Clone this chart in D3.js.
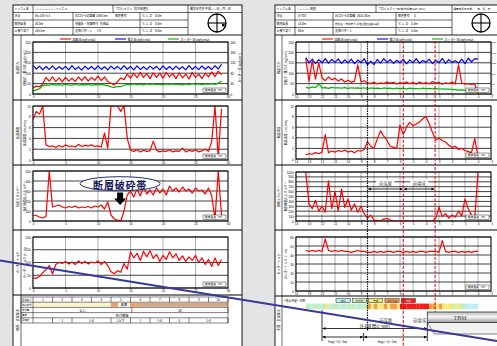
<!DOCTYPE html>
<html>
<head>
<meta charset="utf-8">
<script src="https://cdn.jsdelivr.net/npm/d3@7"></script>
<style>
  body { margin: 0; background: #e4e4e4; overflow: hidden; }
  svg { display: block; }
</style>
</head>
<body>
<script>
// ---------- data : left sheet (0 - 30 m, every 0.5 m) ----------
const L_DIST = d3.range(0, 29.01, 0.5);
const L_X_TICKS = [0, 5, 10, 15, 20, 25, 30];
const L_ROTATION = [30,38,35,48,80,62,82,60,78,58, 80,62,76,60,82,64,84,62,80,66,
  86,64,82,60,52,44,60,78,68,96, 76,100,78,104,80,98,74,102,80,100,
  76,104,82,98,74,102,78,96,72,104, 80,96,74,100,82,106,84,110,92];
const L_THRUST = [138,120,134,116,132,118,135,117,131,119, 133,116,136,118,130,115,134,119,132,117,
  135,118,131,116,134,120,133,117,136,119, 132,116,135,118,131,117,134,120,133,116,
  135,118,132,117,134,119,131,116,136,118, 133,117,135,119,132,118,136,121,142];
const L_CUTTER = [15,20,25,40,44,42,46,43,45,42, 46,44,43,47,42,45,44,46,43,45,
  44,46,43,40,34,32,36,35,42,46, 44,48,45,47,44,49,46,48,45,47,
  44,48,46,49,45,47,44,48,45,50, 46,48,45,49,47,50,46,52,62];
const L_SPEED = [7.5,9.0,8.5,10,2.8,2.5,2.6,2.3,2.7,2.4, 2.8,2.5,2.6,2.4,2.9,2.5,2.7,2.6,2.8,2.5,
  2.6,2.4,5.0,2.2,10,10,10,9.0,10,4.0, 1.8,1.6,1.9,1.5,1.8,1.6,1.7,3.5,1.8,1.5,
  1.7,1.6,1.9,1.5,1.7,1.6,2.2,1.5,1.8,1.6, 1.9,1.5,1.7,2.0,1.6,3.5,10,0.5,9.5];
const L_ENERGY = [60,55,40,30,45,500,140,150,160,140, 130,145,135,150,130,140,135,145,130,150,
  140,160,120,190,60,20,10,0,100,260, 300,240,320,250,340,270,310,260,330,280,
  320,260,350,300,330,290,340,300,320,280, 330,300,310,270,330,250,20,500,60];
const L_TORQUE = [40,38,45,60,72,88,55,92,100,96, 104,94,102,92,106,96,104,94,102,98,
  106,92,104,88,64,56,68,62,96,74, 142,118,136,108,144,122,146,116,132,104,
  128,112,142,118,134,108,126,104,122,108, 128,100,118,92,112,84,118,88,112];

// left sheet table
const L_SECTION_NO = [1, 2, 3, 4, 5, 6, 7, 8, 9, 10];
const L_GEO_FROM = [0, 12, 13.1, 14.9, 15.8];
const L_GEO_TO = [12, 13.1, 14.9, 15.8, 30];
const L_GEO_KIND = [0, 1, 2, 1, 3];
const L_GEO_TEXT = ['', '', '崩落', '', ''];
const L_SPRING_FROM = [0, 15.2];
const L_SPRING_TO = [15.2, 30];
const L_SPRING_TEXT = ['なし', '20'];
const L_SUPPORT_TEXT = '吹付補強';
const L_WATER_FROM = [0, 3, 6, 12, 15, 18, 21, 24];
const L_WATER_TO = [3, 6, 12, 15, 18, 21, 24, 30];
const L_WATER_TEXT = ['', '1', '1~2', '1以下', '1', '1~2', '2', '1~2'];
const L_ROW_LABELS = ['区間番号', '地山状況', '湧水量', '補強', '評価点'];

// ---------- data : right sheet (13.25 m -> 0 m, every 0.25 m) ----------
const R_DIST = d3.range(13.25, -0.01, -0.25);
const R_X_TICKS = d3.range(14, -1.01, -1);
const R_ROTATION = [170,60,160,72,150,78,64,82,68,76, 62,72,58,66,56,62,140,58,64,54,
  50,56,48,54,50,58,52,56,48,55, 50,57,49,56,47,58,50,55,48,60,
  52,56,47,54,50,57,48,140,52,47,50,46,48,0];
const R_THRUST = [175,150,168,146,165,150,170,148,166,152, 169,147,164,150,168,146,163,151,170,140,
  158,142,166,148,170,152,165,147,162,150, 168,145,164,151,170,148,161,153,167,146,
  163,150,171,147,165,152,160,149,168,146,172,155,170,168];
const R_CUTTER = [32,28,34,30,50,29,31,27,32,29, 30,28,31,27,30,28,29,27,30,26,
  29,27,28,26,29,27,28,25,28,26, 27,25,28,26,27,24,28,26,27,25,
  26,24,25,23,24,22,21,19,20,18,19,17,22,30];
const R_SPEED = [0.8,1.0,0.9,1.2,1.0,1.3,4.6,1.2,1.5,1.3, 1.6,1.4,1.7,1.3,1.5,1.2,1.6,1.5,1.8,3.3,
  2.4,2.0,3.8,5.3,4.3,3.5,2.4,2.2,2.0,6.4, 4.6,6.0,6.9,6.3,6.6,7.0,7.6,8.0,6.6,5.0,
  3.6,3.9,3.5,3.2,2.6,2.2,2.4,1.8,2.0,1.6, 1.4,1.2,3.9,0.3];
const R_ENERGY = [1000,350,250,420,200,300,180,820,250,600, 200,650,280,450,220,350,180,300,150,60,
  120,20,10,0,40,50,20,0,0,0, 0,10,0,0,0,0,0,0,0,0,
  60,280,90,150,60,120,80,200,100,450, 250,120,60,1000];
const R_TORQUE = [45,44,45,44,45,44,58,45,44,45, 44,45,44,44,43,44,45,44,44,43,
  43,44,43,44,43,44,44,43,44,44, 43,44,43,44,43,44,44,43,44,44,
  44,43,56,44,43,44,44,43,44,43, 44,43,44,44];
// ground class per 0.25 m bin (1 good ... 5 poor)
const R_CLASS = [2,1,2,2,1,2,3,1,2,2, 1,2,1,2,2,1,2,1,2,4,
  3,4,3,3,4,3,4,4,3,5, 5,5,5,5,5,5,5,5,4,4,
  3,4,3,3,3,2,3,2,2,1, 1,1,1];
const R_CLASS_NAMES = ['良好', 'やや良', '普通', 'やや不良', '不良'];
const R_FAULT_EDGE = 8.5;        // black dotted line
const R_ZONE_EDGES = [5.75, 3.3]; // red dashed lines

const RED = '#ff0000', BLUE = '#0000ff', GREEN = '#00b400';
const CLASS_COLORS = ['#bfeef2', '#c4eeb2', '#f4ea74', '#f59a46', '#f21c1c'];
const GEO_COLORS = ['#fdf4c6', '#f39a5a', '#ffffff', '#d9a682'];
const FONT_JP = '"Noto Sans CJK JP", "Noto Sans", sans-serif';
const FONT_NUM = '"Liberation Sans", Arial, sans-serif';

const W = 497, H = 346;
const svg = d3.select('body').append('svg').attr('width', W).attr('height', H);
svg.append('rect').attr('width', W).attr('height', H).attr('fill', '#e4e4e4');

const defs = svg.append('defs');
defs.append('marker').attr('id', 'ah').attr('viewBox', '0 0 6 6')
  .attr('refX', 6).attr('refY', 3).attr('markerUnits', 'userSpaceOnUse')
  .attr('markerWidth', 3.2).attr('markerHeight', 3).attr('orient', 'auto-start-reverse')
  .append('path').attr('d', 'M0,0L6,3L0,6Z').attr('fill', '#000');
const grad = defs.append('linearGradient').attr('id', 'tbm').attr('x1', 0).attr('x2', 0).attr('y1', 0).attr('y2', 1);
grad.append('stop').attr('offset', 0).attr('stop-color', '#b8b8b8');
grad.append('stop').attr('offset', 0.45).attr('stop-color', '#f6f6f6');
grad.append('stop').attr('offset', 1).attr('stop-color', '#9c9c9c');

// ---------- helpers ----------
function text(g, x, y, s, size, o = {}) {
  return g.append('text').attr('x', x).attr('y', y).text(s)
    .attr('font-size', size).attr('font-family', o.font || FONT_JP)
    .attr('fill', o.fill || '#000').attr('text-anchor', o.anchor || 'start')
    .attr('dominant-baseline', 'central')
    .attr('font-weight', o.weight || null);
}
function vtext(g, x, y, s, size) {
  return text(g, 0, 0, s, size, { anchor: 'middle' })
    .attr('transform', `translate(${x},${y}) rotate(-90)`);
}
function seg(g, x1, y1, x2, y2, w = 0.6, c = '#000') {
  return g.append('line').attr('x1', x1).attr('y1', y1).attr('x2', x2).attr('y2', y2)
    .attr('stroke', c).attr('stroke-width', w);
}

function pageFrame(x0, x1) {
  const g = svg.append('g');
  g.append('rect').attr('x', x0).attr('y', 5).attr('width', x1 - x0).attr('height', H)
    .attr('fill', '#fff').attr('stroke', '#000').attr('stroke-width', 0.9);
  return g;
}

function header(g, x0, x1, h) {
  const rows = [5, 12.5, 20, 27.5, 35];
  seg(g, x0, rows[1], x1, rows[1], 0.6);
  seg(g, x0, rows[2], h.symCol, rows[2], 0.6);
  seg(g, x0, rows[3], h.symCol, rows[3], 0.6);
  seg(g, x0, rows[4], x1, rows[4], 0.9);
  h.cols1.forEach(c => seg(g, c, rows[0], c, rows[1], 0.6));
  h.cols2.forEach(c => seg(g, c, rows[1], c, rows[4], 0.6));
  h.texts.forEach((row, r) => row.forEach(([x, s, sz]) => {
    text(g, x, (rows[r] + rows[r + 1]) / 2, s, sz || 2.9);
  }));
  const cx = h.sym[0], cy = h.sym[1];
  g.append('circle').attr('cx', cx).attr('cy', cy).attr('r', 9)
    .attr('fill', 'none').attr('stroke', '#000').attr('stroke-width', 1.3);
  seg(g, cx - 9, cy, cx + 9, cy, 1.1);
  seg(g, cx, cy - 9, cx, cy + 9, 1.1);
  if (h.dot) g.append('rect').attr('x', cx + 5).attr('y', cy + 0.8).attr('width', 2.6).attr('height', 2.6).attr('fill', '#000');
}

let clipN = 0;
function plot(g, o) {
  const [x0, x1] = o.x.range();
  const y = d3.scaleLinear().domain(o.yDomain).range([o.bottom, o.top]);
  const id = 'clip' + (clipN++);
  g.append('clipPath').attr('id', id).append('rect')
    .attr('x', x0).attr('y', o.top).attr('width', x1 - x0).attr('height', o.bottom - o.top);

  g.append('g').selectAll('line').data(o.xTicks).join('line')
    .attr('x1', d => o.x(d)).attr('x2', d => o.x(d))
    .attr('y1', o.top).attr('y2', o.bottom)
    .attr('stroke', '#9c9c9c').attr('stroke-width', 0.8);
  g.append('g').selectAll('line').data(o.yTicks).join('line')
    .attr('x1', x0).attr('x2', x1).attr('y1', d => y(d)).attr('y2', d => y(d))
    .attr('stroke', '#000').attr('stroke-width', 0.75);

  // minor + labelled ticks on the left axis
  g.append('g').attr('transform', `translate(${x0},0)`)
    .call(d3.axisLeft(y).tickValues(o.yMinor).tickSize(1.3).tickFormat(''))
    .call(a => a.select('.domain').remove())
    .selectAll('line').attr('stroke-width', 0.4);
  g.append('g').attr('transform', `translate(${x0},0)`)
    .call(d3.axisLeft(y).tickValues(o.yTicks).tickSize(0).tickPadding(2.4).tickFormat(d3.format('d')))
    .call(a => a.select('.domain').remove())
    .selectAll('text').attr('font-size', 3.1).attr('font-family', FONT_NUM);

  if (o.right) {
    const yr = d3.scaleLinear().domain(o.right.domain).range([o.bottom, o.top]);
    g.append('g').attr('transform', `translate(${x1},0)`)
      .call(d3.axisRight(yr).tickValues(o.right.minor).tickSize(1.3).tickFormat(''))
      .call(a => a.select('.domain').remove())
      .selectAll('line').attr('stroke-width', 0.4);
    g.append('g').attr('transform', `translate(${x1},0)`)
      .call(d3.axisRight(yr).tickValues(o.right.ticks).tickSize(0).tickPadding(o.right.pad || 2.4).tickFormat(d3.format('d')))
      .call(a => a.select('.domain').remove())
      .selectAll('text').attr('font-size', o.right.size || 3.1).attr('font-family', FONT_NUM);
  }

  g.append('g').attr('transform', `translate(0,${o.bottom})`)
    .call(d3.axisBottom(o.x).tickValues(o.xTicks).tickSize(1).tickPadding(0.8).tickFormat(d3.format('d')))
    .call(a => a.select('.domain').remove())
    .call(a => a.selectAll('line').attr('stroke-width', 0.4))
    .selectAll('text').attr('font-size', 3.1).attr('font-family', FONT_NUM);

  const lines = g.append('g').attr('clip-path', `url(#${id})`);
  o.series.forEach(s => {
    const ln = d3.line().x((v, i) => o.x(o.dist[i])).y(v => y(v));
    lines.append('path').attr('d', ln(s.v)).attr('fill', 'none')
      .attr('stroke', s.c).attr('stroke-width', 1.2).attr('stroke-linejoin', 'round');
  });

  g.append('rect').attr('x', x1 - 25).attr('y', o.bottom - 6).attr('width', 23).attr('height', 4.6)
    .attr('fill', '#fff').attr('stroke', '#000').attr('stroke-width', 0.4);
  text(g, x1 - 13.5, o.bottom - 3.7, '掘進距離（m）', 2.8, { anchor: 'middle' });

  g.append('rect').attr('x', x0).attr('y', o.top).attr('width', x1 - x0).attr('height', o.bottom - o.top)
    .attr('fill', 'none').attr('stroke', '#000').attr('stroke-width', 0.9);
  return y;
}

function legend(g, items) {
  items.forEach(([x, c, s]) => {
    seg(g, x, 39, x + 11, 39, 1.1, c);
    text(g, x + 12.5, 39, s, 3.1);
  });
}

const PANEL_LABELS = [
  ['掘進圧力', '回転圧・推力圧 (kgf/cm²)'],
  ['掘進速度', '掘進速度 (cm/min)'],
  ['掘削エネルギー', '掘削体積比エネルギー'],
  ['カッタートルク', 'カッタートルク (t・m)']
];

// =============== LEFT SHEET ===============
const xL = d3.scaleLinear().domain([0, 30]).range([33, 228]);
const gL = pageFrame(13, 242);
header(gL, 13, 242, {
  symCol: 188, cols1: [33, 113, 188], cols2: [33, 73, 140, 188],
  sym: [217, 23], dot: true,
  texts: [
    [[14.5, 'トンネル名'], [35, '○○○○○○○ トンネル'], [115, 'プロジェクト'], [134, '前方探査孔'], [190, '撮影年月日'], [205, '平成○○年○月○日']],
    [[14.5, '測点'], [35, 'No.185+5.5'], [75, '坑口からの距離'], [96, '1565.5m'], [115, '掘進番号'], [142, 'Ｇ.Ｌ.Ｄ'], [155, '0.0m']],
    [[14.5, '掘進延長'], [35, '30.0m'], [75, '地質名・地質時代'], [100, '花崗岩'], [142, 'Ｇ.Ｌ.Ｄ'], [155, '0.0m']],
    [[14.5, '土被り高さ'], [35, '165.0m'], [75, '支保パターン'], [97, 'CⅡ'], [142, 'Ｇ.Ｌ.Ｄ'], [155, '0.0m']]
  ]
});
seg(gL, 21, 35, 21, H, 0.6);
[100, 165, 230, 295].forEach(yy => seg(gL, 13, yy, 242, yy, 1));
legend(gL, [[60, RED, '回転圧(kgf/cm2)'], [115, BLUE, '推力圧(kgf/cm2)'], [168, GREEN, 'カッター圧(kgf/cm2)']]);

const L_PANELS = [
  { top: 42, bottom: 94, yDomain: [0, 250], yTicks: d3.range(0, 251, 50), yMinor: d3.range(0, 251, 10),
    right: { domain: [0, 200], ticks: d3.range(0, 201, 40), minor: d3.range(0, 201, 8) },
    series: [{ v: L_THRUST, c: BLUE }, { v: L_CUTTER, c: GREEN }, { v: L_ROTATION, c: RED }] },
  { top: 106, bottom: 160, yDomain: [0, 10], yTicks: d3.range(0, 11, 2), yMinor: d3.range(0, 10.01, 0.5),
    series: [{ v: L_SPEED, c: RED }] },
  { top: 171, bottom: 221, yDomain: [0, 500], yTicks: d3.range(0, 501, 100), yMinor: d3.range(0, 501, 20),
    series: [{ v: L_ENERGY, c: RED }] },
  { top: 237, bottom: 288, yDomain: [0, 200], yTicks: d3.range(0, 201, 50), yMinor: d3.range(0, 201, 10),
    series: [{ v: L_TORQUE, c: RED }] }
];
L_PANELS.forEach((p, i) => {
  plot(gL, Object.assign({ x: xL, dist: L_DIST, xTicks: L_X_TICKS }, p));
  const cy = (p.top + p.bottom) / 2;
  vtext(gL, 17, cy, PANEL_LABELS[i][0], 3.1);
  vtext(gL, 24, cy, PANEL_LABELS[i][1], 3.1);
});
vtext(gL, 239.5, 68, 'カッター圧 (kgf/cm²)', 3.1);

// fault zone callout
const fx = xL(13.4);
gL.append('ellipse').attr('cx', fx).attr('cy', 183.7).attr('rx', 40).attr('ry', 7)
  .attr('fill', '#fff').attr('stroke', '#14145a').attr('stroke-width', 0.9);
text(gL, fx, 184.2, '断層破砕帯', 10, { anchor: 'middle', weight: 'bold', fill: '#14145a' })
  .attr('letter-spacing', 0.8);
gL.append('path')
  .attr('d', `M${fx - 3},192.5 L${fx + 3},192.5 L${fx + 3},198.5 L${fx + 6},198.5 L${fx},205 L${fx - 6},198.5 L${fx - 3},198.5 Z`)
  .attr('fill', '#000');

// bottom table
const TR = [297, 302.2, 307.4, 312.6, 317.8, 323];
const tb = gL.append('g');
vtext(gL, 17, 320, '地質・支保状況', 3.1);
L_GEO_FROM.forEach((f, i) => {
  tb.append('rect').attr('x', xL(f)).attr('y', TR[1] + 0.7).attr('width', xL(L_GEO_TO[i]) - xL(f))
    .attr('height', TR[2] - TR[1] - 1.4).attr('fill', GEO_COLORS[L_GEO_KIND[i]]);
  if (L_GEO_TEXT[i]) text(tb, (xL(f) + xL(L_GEO_TO[i])) / 2, (TR[1] + TR[2]) / 2, L_GEO_TEXT[i], 3.2, { anchor: 'middle' });
});
TR.forEach(yy => seg(tb, 21, yy, 228, yy, 0.5));
[21, 33, 228].forEach(xx => seg(tb, xx, TR[0], xx, TR[5], 0.5));
L_ROW_LABELS.forEach((s, r) => text(tb, 22, (TR[r] + TR[r + 1]) / 2, s, 2.4));
L_SECTION_NO.forEach((n, i) => {
  const a = xL(i * 3), b = xL(i * 3 + 3);
  seg(tb, b, TR[0], b, TR[1], 0.5);
  text(tb, (a + b) / 2, (TR[0] + TR[1]) / 2, String(n), 3, { anchor: 'middle', font: FONT_NUM });
});
L_SPRING_FROM.forEach((f, i) => {
  seg(tb, xL(L_SPRING_TO[i]), TR[2], xL(L_SPRING_TO[i]), TR[3], 0.5);
  text(tb, (xL(f) + xL(L_SPRING_TO[i])) / 2, (TR[2] + TR[3]) / 2, L_SPRING_TEXT[i], 3.1, { anchor: 'middle' });
});
text(tb, xL(13.7), (TR[3] + TR[4]) / 2, L_SUPPORT_TEXT, 3.1, { anchor: 'middle' });
L_WATER_FROM.forEach((f, i) => {
  seg(tb, xL(L_WATER_TO[i]), TR[4], xL(L_WATER_TO[i]), TR[5], 0.5);
  text(tb, (xL(f) + xL(L_WATER_TO[i])) / 2, (TR[4] + TR[5]) / 2, L_WATER_TEXT[i], 3.1, { anchor: 'middle' });
});

// =============== RIGHT SHEET ===============
const xR = d3.scaleLinear().domain([14, -1]).range([296, 491]);
const gR = pageFrame(275, W + 20);
header(gR, 275, W + 20, {
  symCol: 452, cols1: [295, 376, 452], cols2: [295, 333, 396, 452],
  sym: [481, 23], dot: false,
  texts: [
    [[276.5, 'トンネル名'], [298, '○○○○ 隧道'], [378, 'プロジェクト'], [396, 'TBM前方探査(AGF_No.2)', 2.6], [453.5, '調査年月日', 2.6], [467, '平成○○年○月○日', 2.6]],
    [[276.5, '測点'], [298, '0+700'], [335, '坑口からの距離'], [357, '1631.00m'], [398, '掘進番号'], [414, '3']],
    [[276.5, '掘進延長'], [298, '13.0m'], [335, '地質名・地質時代', 2.6], [357, '砂岩泥岩(古第三紀)', 2.6], [398, 'Ｇ.Ｌ.Ｄ'], [411, '3.3m']],
    [[276.5, '土被り高さ'], [298, '60m'], [335, '支保パターン'], [398, 'Ｇ.Ｌ.Ｄ'], [411, '3.3m']]
  ]
});
seg(gR, 282, 35, 282, H, 0.6);
[100, 165, 230, 296].forEach(yy => seg(gR, 275, yy, W + 20, yy, 1));
legend(gR, [[322, RED, '回転圧(kgf/cm2)'], [377, BLUE, '推力圧(kgf/cm2)'], [432, GREEN, 'カッター圧(kgf/cm2)']]);

const R_PANELS = [
  { top: 42, bottom: 94, yDomain: [0, 250], yTicks: d3.range(0, 251, 50), yMinor: d3.range(0, 251, 10),
    right: { domain: [0, 200], ticks: d3.range(0, 201, 40), minor: d3.range(0, 201, 8), pad: 1, size: 2.5 },
    series: [{ v: R_THRUST, c: BLUE }, { v: R_CUTTER, c: GREEN }, { v: R_ROTATION, c: RED }] },
  { top: 106, bottom: 159, yDomain: [0, 10], yTicks: d3.range(0, 11, 2), yMinor: d3.range(0, 10.01, 0.5),
    series: [{ v: R_SPEED, c: RED }] },
  { top: 172, bottom: 221, yDomain: [0, 1000], yTicks: d3.range(0, 1001, 100), yMinor: d3.range(0, 1001, 50),
    series: [{ v: R_ENERGY, c: RED }] },
  { top: 237, bottom: 291, yDomain: [0, 60], yTicks: d3.range(0, 61, 10), yMinor: d3.range(0, 61, 2),
    series: [{ v: R_TORQUE, c: RED }] }
];
R_PANELS.forEach((p, i) => {
  plot(gR, Object.assign({ x: xR, dist: R_DIST, xTicks: R_X_TICKS }, p));
  const cy = (p.top + p.bottom) / 2;
  vtext(gR, 278.5, cy, PANEL_LABELS[i][0], 3);
  vtext(gR, 285.5, cy, PANEL_LABELS[i][1], 3);
});
vtext(gR, 278.5, 320, '地質・支保状況', 3);

// zone arrows in energy panel
const za = gR.append('g');
[[R_FAULT_EDGE, R_ZONE_EDGES[0], '崩落層'], [R_ZONE_EDGES[0], R_ZONE_EDGES[1], '崩壊域']].forEach(([a, b, s]) => {
  za.append('line').attr('x1', xR(a) + 0.6).attr('x2', xR(b) - 0.6).attr('y1', 189).attr('y2', 189)
    .attr('stroke', '#000').attr('stroke-width', 0.8)
    .attr('marker-start', 'url(#ah)').attr('marker-end', 'url(#ah)');
  za.append('rect').attr('x', xR((a + b) / 2) - 9).attr('y', 179.5).attr('width', 18).attr('height', 6).attr('fill', '#fff');
  text(za, xR((a + b) / 2), 182.7, s, 4.3, { anchor: 'middle', fill: '#555' });
});

// ground class legend and bar
const gb = gR.append('g');
text(gb, 284, 300.8, '<地山判定> 凡例', 2.9);
R_CLASS_NAMES.forEach((s, i) => {
  const bx = 336 + i * 16.3;
  gb.append('rect').attr('x', bx).attr('y', 298.6).attr('width', 14.2).attr('height', 4)
    .attr('fill', CLASS_COLORS[i]).attr('stroke', '#222').attr('stroke-width', 0.5);
  text(gb, bx + 7.1, 300.7, s, 2.4, { anchor: 'middle', fill: i === 4 ? '#fff' : '#222' });
});
R_CLASS.forEach((c, i) => {
  gb.append('rect').attr('x', xR(R_DIST[i])).attr('y', 303.6)
    .attr('width', xR(R_DIST[i] - 0.25) - xR(R_DIST[i]) + 0.2).attr('height', 5.6)
    .attr('fill', CLASS_COLORS[c - 1]);
});

// schematic: TBM and injection stages
const sc = gR.append('g');
seg(sc, xR(12), 310, xR(12), 341, 0.8);
sc.append('polygon')
  .attr('points', `${xR(3.9)},322.5 ${W + 20},322.5 ${W + 20},334 ${xR(3.9) + 7},334`)
  .attr('fill', '#f2f2f2').attr('stroke', '#333').attr('stroke-width', 0.6);
sc.append('rect').attr('x', xR(3.9)).attr('y', 312).attr('width', W + 20 - xR(3.9)).attr('height', 10.5)
  .attr('fill', 'url(#tbm)').attr('stroke', '#333').attr('stroke-width', 0.8);
text(sc, 460, 317.5, 'TBM', 6, { anchor: 'middle', font: '"Liberation Serif", serif', fill: '#444' });
text(sc, xR(7.1), 320, '崩落層', 4.3, { anchor: 'middle', fill: '#555' });
text(sc, xR(4.5), 320, '崩壊域', 4.3, { anchor: 'middle', fill: '#555' });
seg(sc, xR(3.9), 322.5, xR(3.9), 341, 0.8);
seg(sc, xR(8.8), 333, xR(8.8), 341, 0.8);
function dim(x1, x2, yy) {
  sc.append('line').attr('x1', x1 + 0.5).attr('x2', x2 - 0.5).attr('y1', yy).attr('y2', yy)
    .attr('stroke', '#000').attr('stroke-width', 0.8)
    .attr('marker-start', 'url(#ah)').attr('marker-end', 'url(#ah)');
}
dim(xR(12), xR(3.9), 328.5);
text(sc, (xR(12) + xR(3.9)) / 2, 325.8, '注入区間(L=6m)', 4.2, { anchor: 'middle' });
dim(xR(12), xR(8.8), 337);
dim(xR(8.8), xR(3.9), 337);
text(sc, xR(10.8), 341.5, 'Stage②(L=3m)', 3, { anchor: 'middle', font: '"Liberation Serif", serif' });
text(sc, xR(7.0), 341.5, 'Stage①(L=3m)', 3, { anchor: 'middle', font: '"Liberation Serif", serif' });

// vertical reference lines through the right sheet
seg(gR, xR(R_FAULT_EDGE), 41, xR(R_FAULT_EDGE), 331, 1.2, '#000').attr('stroke-dasharray', '1.4,1');
seg(gR, xR(R_ZONE_EDGES[0]), 41, xR(R_ZONE_EDGES[0]), H, 1, '#e00000').attr('stroke-dasharray', '3,1.5');
seg(gR, xR(R_ZONE_EDGES[1]), 41, xR(R_ZONE_EDGES[1]), 312, 1, '#e00000').attr('stroke-dasharray', '3,1.5');

// diagonal stroke across both sheets
svg.append('line').attr('x1', 0).attr('y1', 260.5).attr('x2', W).attr('y2', 341)
  .attr('stroke', '#38389a').attr('stroke-width', 2.2);
</script>
</body>
</html>
